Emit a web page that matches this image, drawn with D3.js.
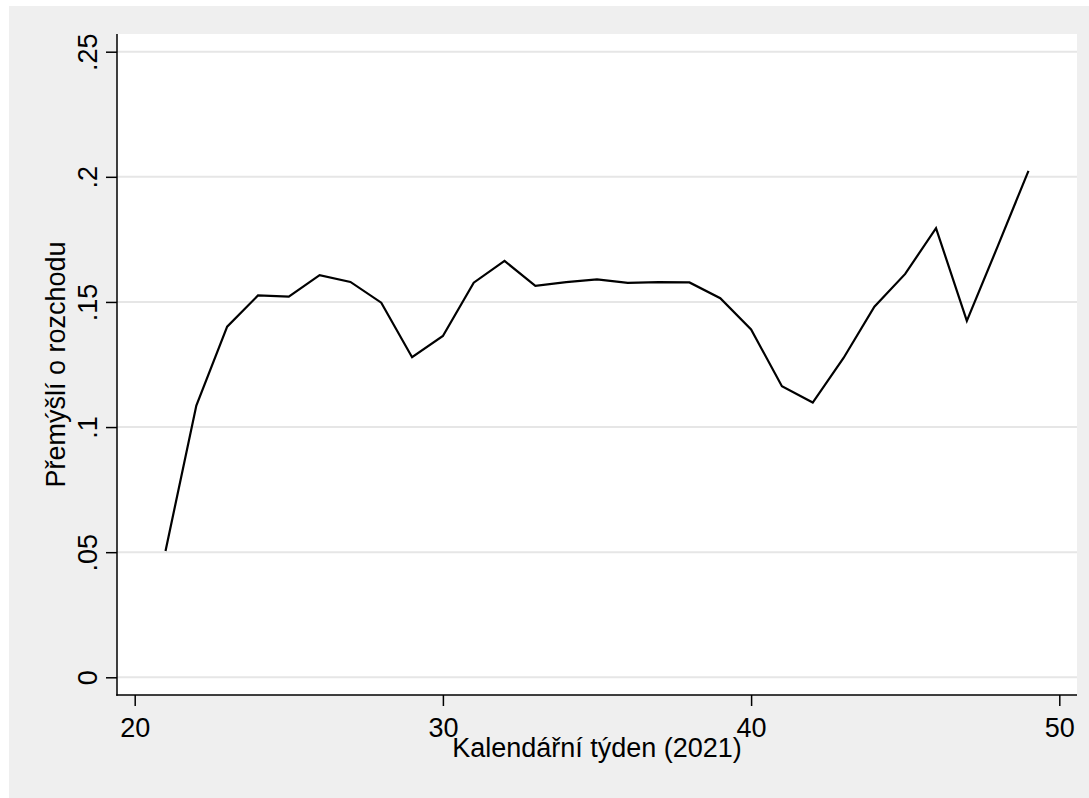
<!DOCTYPE html>
<html>
<head>
<meta charset="utf-8">
<script src="https://cdn.jsdelivr.net/npm/d3@7"></script>
<style>
  html, body { margin: 0; padding: 0; background: #ffffff; }
  svg { display: block; }
  text { font-family: "Liberation Sans", Arial, Helvetica, sans-serif; fill: #000; }
</style>
</head>
<body>
<svg id="chart" width="1089" height="798"></svg>
<script>
// ---- data ----
const weeks = [21,22,23,24,25,26,27,28,29,30,31,32,33,34,35,36,37,38,39,40,41,42,43,44,45,46,47,48,49];
const values = [0.0505,0.1086,0.1401,0.1526,0.1521,0.1607,0.1580,0.1497,0.1279,0.1364,0.1577,0.1664,0.1564,0.1579,0.1590,0.1576,0.1579,0.1578,0.1515,0.1390,0.1163,0.1098,0.1276,0.1481,0.1612,0.1795,0.1424,0.1722,0.2024];
const xTicks = [20,30,40,50];
const yTicks = [0,0.05,0.1,0.15,0.2,0.25];
const yTickLabels = ["0",".05",".1",".15",".2",".25"];
const xTitle = "Kalendářní týden (2021)";
const yTitle = "Přemýšlí o rozchodu";

// ---- layout ----
const W = 1089, H = 798;
const bg = {x: 9, y: 6};
const plot = {left: 117, right: 1077, top: 34, bottom: 695};
const fontSize = 27;

const svg = d3.select("#chart");

svg.append("rect").attr("x", bg.x).attr("y", bg.y)
  .attr("width", W - bg.x).attr("height", H - bg.y).attr("fill", "#efefef");
svg.append("rect").attr("x", plot.left).attr("y", plot.top)
  .attr("width", plot.right - plot.left).attr("height", plot.bottom - plot.top).attr("fill", "#ffffff");

const x = d3.scaleLinear().domain([20, 50]).range([134.7, 1059.3]);
const y = d3.scaleLinear().domain([0, 0.25]).range([677.3, 51.7]);

// gridlines
svg.append("g").selectAll("line").data(yTicks).join("line")
  .attr("x1", plot.left).attr("x2", plot.right)
  .attr("y1", d => y(d)).attr("y2", d => y(d))
  .attr("stroke", "#e6e6e6").attr("stroke-width", 2);

// line
const line = d3.line().x((d, i) => x(weeks[i])).y(d => y(d));
svg.append("path").datum(values)
  .attr("d", line).attr("fill", "none")
  .attr("stroke", "#000").attr("stroke-width", 2.2)
  .attr("stroke-linejoin", "miter").attr("stroke-linecap", "butt");

// y axis
const yAxis = d3.axisLeft(y).tickValues(yTicks)
  .tickFormat((d, i) => yTickLabels[i]).tickSize(11).tickPadding(9);
const gy = svg.append("g").attr("transform", `translate(${plot.left},0)`).call(yAxis);
gy.select(".domain").remove();
gy.selectAll(".tick line").attr("stroke", "#000").attr("stroke-width", 1.5);
gy.selectAll(".tick text")
  .attr("font-size", fontSize).attr("font-family", "Liberation Sans, Arial, sans-serif")
  .attr("x", null).attr("dy", null)
  .attr("text-anchor", "middle")
  .attr("transform", "translate(-20.5,0) rotate(-90)");

// x axis
const xAxis = d3.axisBottom(x).tickValues(xTicks).tickFormat(d3.format("d")).tickSize(11).tickPadding(6);
const gx = svg.append("g").attr("transform", `translate(0,${plot.bottom})`).call(xAxis);
gx.select(".domain").remove();
gx.selectAll(".tick line").attr("stroke", "#000").attr("stroke-width", 1.5);
gx.selectAll(".tick text")
  .attr("font-size", fontSize).attr("font-family", "Liberation Sans, Arial, sans-serif")
  .attr("dy", null).attr("y", 736.7 - plot.bottom);

// axis lines
svg.append("line").attr("x1", plot.left).attr("x2", plot.left)
  .attr("y1", plot.top).attr("y2", plot.bottom + 0.75)
  .attr("stroke", "#000").attr("stroke-width", 1.5);
svg.append("line").attr("x1", plot.left - 0.75).attr("x2", plot.right)
  .attr("y1", plot.bottom).attr("y2", plot.bottom)
  .attr("stroke", "#000").attr("stroke-width", 1.5);

// titles
svg.append("text").attr("x", (plot.left + plot.right) / 2 + 0).attr("y", 756.7)
  .attr("text-anchor", "middle").attr("font-size", fontSize).text(xTitle);
svg.append("text")
  .attr("transform", `translate(64.5,${(plot.top + plot.bottom) / 2}) rotate(-90)`)
  .attr("text-anchor", "middle").attr("font-size", fontSize).text(yTitle);
</script>
</body>
</html>
